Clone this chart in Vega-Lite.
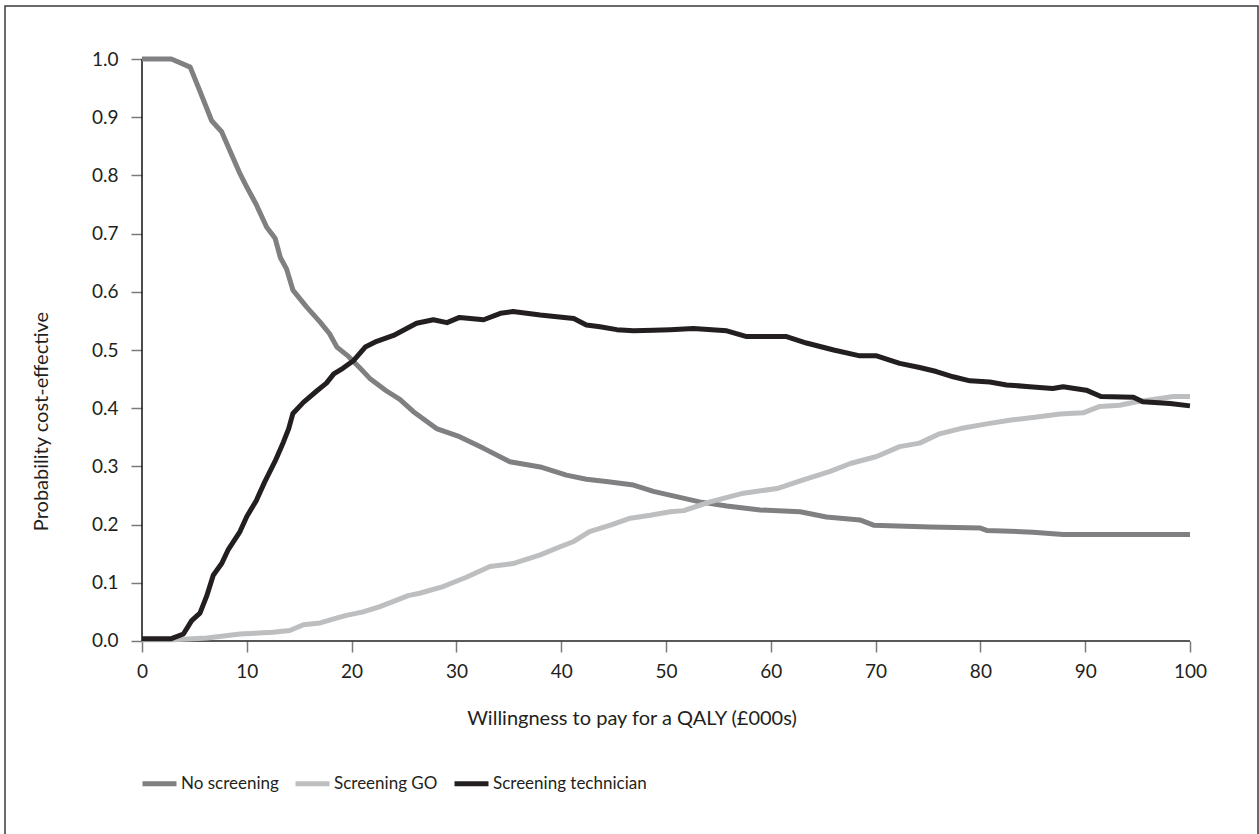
{
  "$schema": "https://vega.github.io/schema/vega-lite/v6.json",
  "width": 1253,
  "height": 830,
  "padding": {"left": 5, "top": 6, "right": 1, "bottom": 0},
  "autosize": {"type": "none"},
  "background": "white",
  "config": {
    "view": {"stroke": "#3a3a3a", "strokeWidth": 1.5},
    "font": "Lato",
    "axis": {
      "grid": false,
      "domain": false,
      "tickColor": "#7a7a7a",
      "tickWidth": 1.5,
      "tickSize": 11,
      "labelColor": "#231f20",
      "labelFont": "Lato",
      "labelFontSize": 19,
      "titleColor": "#231f20",
      "titleFont": "Lato",
      "titleFontSize": 20,
      "titleFontWeight": "normal"
    },
    "legend": {
      "labelFont": "Lato",
      "labelFontSize": 17,
      "labelColor": "#231f20",
      "labelLimit": 0
    }
  },
  "datasets": {
    "curves": [
      {"series": "No screening", "wtp": 0, "prob": 1.0},
      {"series": "No screening", "wtp": 2.8, "prob": 1.0},
      {"series": "No screening", "wtp": 4.6, "prob": 0.986},
      {"series": "No screening", "wtp": 5.5, "prob": 0.946},
      {"series": "No screening", "wtp": 6.65, "prob": 0.894},
      {"series": "No screening", "wtp": 7.6, "prob": 0.875},
      {"series": "No screening", "wtp": 8.4, "prob": 0.842},
      {"series": "No screening", "wtp": 9.35, "prob": 0.803},
      {"series": "No screening", "wtp": 10.0, "prob": 0.78},
      {"series": "No screening", "wtp": 10.9, "prob": 0.75},
      {"series": "No screening", "wtp": 11.9, "prob": 0.711},
      {"series": "No screening", "wtp": 12.7, "prob": 0.692},
      {"series": "No screening", "wtp": 13.2, "prob": 0.659},
      {"series": "No screening", "wtp": 13.8, "prob": 0.639},
      {"series": "No screening", "wtp": 14.4, "prob": 0.603},
      {"series": "No screening", "wtp": 15.7, "prob": 0.574},
      {"series": "No screening", "wtp": 17.0, "prob": 0.548},
      {"series": "No screening", "wtp": 17.9, "prob": 0.528},
      {"series": "No screening", "wtp": 18.6, "prob": 0.505},
      {"series": "No screening", "wtp": 19.7, "prob": 0.489},
      {"series": "No screening", "wtp": 20.8, "prob": 0.469},
      {"series": "No screening", "wtp": 21.8, "prob": 0.45},
      {"series": "No screening", "wtp": 23.3, "prob": 0.43},
      {"series": "No screening", "wtp": 24.6, "prob": 0.415},
      {"series": "No screening", "wtp": 25.9, "prob": 0.394},
      {"series": "No screening", "wtp": 28.1, "prob": 0.365},
      {"series": "No screening", "wtp": 30.3, "prob": 0.351},
      {"series": "No screening", "wtp": 32.6, "prob": 0.331},
      {"series": "No screening", "wtp": 35.1, "prob": 0.308},
      {"series": "No screening", "wtp": 38.0, "prob": 0.299},
      {"series": "No screening", "wtp": 40.5, "prob": 0.285},
      {"series": "No screening", "wtp": 42.4, "prob": 0.278},
      {"series": "No screening", "wtp": 44.3, "prob": 0.274},
      {"series": "No screening", "wtp": 46.9, "prob": 0.268},
      {"series": "No screening", "wtp": 48.8, "prob": 0.257},
      {"series": "No screening", "wtp": 51.0, "prob": 0.248},
      {"series": "No screening", "wtp": 53.2, "prob": 0.239},
      {"series": "No screening", "wtp": 55.8, "prob": 0.232},
      {"series": "No screening", "wtp": 59.0, "prob": 0.225},
      {"series": "No screening", "wtp": 62.8, "prob": 0.222},
      {"series": "No screening", "wtp": 65.3, "prob": 0.213},
      {"series": "No screening", "wtp": 68.5, "prob": 0.208},
      {"series": "No screening", "wtp": 69.8, "prob": 0.199},
      {"series": "No screening", "wtp": 75.2, "prob": 0.196},
      {"series": "No screening", "wtp": 80.0, "prob": 0.194},
      {"series": "No screening", "wtp": 80.6, "prob": 0.19},
      {"series": "No screening", "wtp": 85.0, "prob": 0.187},
      {"series": "No screening", "wtp": 87.9, "prob": 0.183},
      {"series": "No screening", "wtp": 100, "prob": 0.183},
      {"series": "Screening GO", "wtp": 0, "prob": 0.002},
      {"series": "Screening GO", "wtp": 3.0, "prob": 0.002},
      {"series": "Screening GO", "wtp": 6.2, "prob": 0.005},
      {"series": "Screening GO", "wtp": 9.35, "prob": 0.012},
      {"series": "Screening GO", "wtp": 12.5, "prob": 0.015},
      {"series": "Screening GO", "wtp": 14.1, "prob": 0.018},
      {"series": "Screening GO", "wtp": 15.4, "prob": 0.028},
      {"series": "Screening GO", "wtp": 17.0, "prob": 0.031},
      {"series": "Screening GO", "wtp": 18.3, "prob": 0.038},
      {"series": "Screening GO", "wtp": 19.5, "prob": 0.044},
      {"series": "Screening GO", "wtp": 21.1, "prob": 0.05},
      {"series": "Screening GO", "wtp": 22.7, "prob": 0.059},
      {"series": "Screening GO", "wtp": 24.0, "prob": 0.068},
      {"series": "Screening GO", "wtp": 25.4, "prob": 0.078},
      {"series": "Screening GO", "wtp": 26.5, "prob": 0.082},
      {"series": "Screening GO", "wtp": 28.8, "prob": 0.094},
      {"series": "Screening GO", "wtp": 31.0, "prob": 0.11},
      {"series": "Screening GO", "wtp": 33.2, "prob": 0.128},
      {"series": "Screening GO", "wtp": 35.4, "prob": 0.133},
      {"series": "Screening GO", "wtp": 38.0, "prob": 0.148},
      {"series": "Screening GO", "wtp": 39.9, "prob": 0.162},
      {"series": "Screening GO", "wtp": 41.2, "prob": 0.171},
      {"series": "Screening GO", "wtp": 42.7, "prob": 0.188},
      {"series": "Screening GO", "wtp": 44.7, "prob": 0.199},
      {"series": "Screening GO", "wtp": 46.6, "prob": 0.211},
      {"series": "Screening GO", "wtp": 48.5, "prob": 0.216},
      {"series": "Screening GO", "wtp": 50.4, "prob": 0.222},
      {"series": "Screening GO", "wtp": 51.7, "prob": 0.224},
      {"series": "Screening GO", "wtp": 54.2, "prob": 0.239},
      {"series": "Screening GO", "wtp": 57.4, "prob": 0.254},
      {"series": "Screening GO", "wtp": 60.6, "prob": 0.262},
      {"series": "Screening GO", "wtp": 63.1, "prob": 0.277},
      {"series": "Screening GO", "wtp": 65.6, "prob": 0.291},
      {"series": "Screening GO", "wtp": 67.6, "prob": 0.305},
      {"series": "Screening GO", "wtp": 70.1, "prob": 0.317},
      {"series": "Screening GO", "wtp": 72.3, "prob": 0.334},
      {"series": "Screening GO", "wtp": 74.2, "prob": 0.34},
      {"series": "Screening GO", "wtp": 76.1, "prob": 0.356},
      {"series": "Screening GO", "wtp": 78.1, "prob": 0.365},
      {"series": "Screening GO", "wtp": 80.6, "prob": 0.373},
      {"series": "Screening GO", "wtp": 83.1, "prob": 0.38},
      {"series": "Screening GO", "wtp": 85.4, "prob": 0.385},
      {"series": "Screening GO", "wtp": 87.6, "prob": 0.39},
      {"series": "Screening GO", "wtp": 89.8, "prob": 0.392},
      {"series": "Screening GO", "wtp": 91.4, "prob": 0.403},
      {"series": "Screening GO", "wtp": 93.3, "prob": 0.405},
      {"series": "Screening GO", "wtp": 94.9, "prob": 0.411},
      {"series": "Screening GO", "wtp": 96.5, "prob": 0.415},
      {"series": "Screening GO", "wtp": 98.4, "prob": 0.42},
      {"series": "Screening GO", "wtp": 100, "prob": 0.42},
      {"series": "Screening technician", "wtp": 0, "prob": 0.004},
      {"series": "Screening technician", "wtp": 2.8, "prob": 0.004},
      {"series": "Screening technician", "wtp": 3.95, "prob": 0.012},
      {"series": "Screening technician", "wtp": 4.74, "prob": 0.035},
      {"series": "Screening technician", "wtp": 5.53, "prob": 0.048},
      {"series": "Screening technician", "wtp": 6.17, "prob": 0.077},
      {"series": "Screening technician", "wtp": 6.8, "prob": 0.113},
      {"series": "Screening technician", "wtp": 7.6, "prob": 0.133},
      {"series": "Screening technician", "wtp": 8.2, "prob": 0.156},
      {"series": "Screening technician", "wtp": 9.35, "prob": 0.188},
      {"series": "Screening technician", "wtp": 10.0, "prob": 0.214},
      {"series": "Screening technician", "wtp": 10.9, "prob": 0.241},
      {"series": "Screening technician", "wtp": 11.7, "prob": 0.273},
      {"series": "Screening technician", "wtp": 12.7, "prob": 0.309},
      {"series": "Screening technician", "wtp": 13.5, "prob": 0.342},
      {"series": "Screening technician", "wtp": 14.0, "prob": 0.365},
      {"series": "Screening technician", "wtp": 14.4, "prob": 0.391},
      {"series": "Screening technician", "wtp": 15.4, "prob": 0.41},
      {"series": "Screening technician", "wtp": 16.7, "prob": 0.43},
      {"series": "Screening technician", "wtp": 17.6, "prob": 0.443},
      {"series": "Screening technician", "wtp": 18.3, "prob": 0.459},
      {"series": "Screening technician", "wtp": 19.2, "prob": 0.469},
      {"series": "Screening technician", "wtp": 20.2, "prob": 0.482},
      {"series": "Screening technician", "wtp": 21.3, "prob": 0.505},
      {"series": "Screening technician", "wtp": 22.4, "prob": 0.515},
      {"series": "Screening technician", "wtp": 24.0, "prob": 0.525},
      {"series": "Screening technician", "wtp": 26.2, "prob": 0.546},
      {"series": "Screening technician", "wtp": 27.8, "prob": 0.552},
      {"series": "Screening technician", "wtp": 29.1, "prob": 0.547},
      {"series": "Screening technician", "wtp": 30.3, "prob": 0.556},
      {"series": "Screening technician", "wtp": 32.6, "prob": 0.552},
      {"series": "Screening technician", "wtp": 34.2, "prob": 0.563},
      {"series": "Screening technician", "wtp": 35.4, "prob": 0.566},
      {"series": "Screening technician", "wtp": 36.7, "prob": 0.563},
      {"series": "Screening technician", "wtp": 38.0, "prob": 0.56},
      {"series": "Screening technician", "wtp": 39.6, "prob": 0.557},
      {"series": "Screening technician", "wtp": 41.2, "prob": 0.554},
      {"series": "Screening technician", "wtp": 42.4, "prob": 0.543},
      {"series": "Screening technician", "wtp": 43.7, "prob": 0.54},
      {"series": "Screening technician", "wtp": 45.3, "prob": 0.535},
      {"series": "Screening technician", "wtp": 46.9, "prob": 0.533},
      {"series": "Screening technician", "wtp": 48.8, "prob": 0.534},
      {"series": "Screening technician", "wtp": 50.4, "prob": 0.535},
      {"series": "Screening technician", "wtp": 52.6, "prob": 0.537},
      {"series": "Screening technician", "wtp": 55.8, "prob": 0.533},
      {"series": "Screening technician", "wtp": 57.7, "prob": 0.523},
      {"series": "Screening technician", "wtp": 61.5, "prob": 0.523},
      {"series": "Screening technician", "wtp": 63.4, "prob": 0.512},
      {"series": "Screening technician", "wtp": 66.0, "prob": 0.5},
      {"series": "Screening technician", "wtp": 68.5, "prob": 0.49},
      {"series": "Screening technician", "wtp": 70.1, "prob": 0.49},
      {"series": "Screening technician", "wtp": 72.3, "prob": 0.477},
      {"series": "Screening technician", "wtp": 74.2, "prob": 0.47},
      {"series": "Screening technician", "wtp": 75.8, "prob": 0.463},
      {"series": "Screening technician", "wtp": 77.4, "prob": 0.454},
      {"series": "Screening technician", "wtp": 79.0, "prob": 0.447},
      {"series": "Screening technician", "wtp": 80.9, "prob": 0.445},
      {"series": "Screening technician", "wtp": 82.5, "prob": 0.44},
      {"series": "Screening technician", "wtp": 84.7, "prob": 0.437},
      {"series": "Screening technician", "wtp": 86.9, "prob": 0.434},
      {"series": "Screening technician", "wtp": 87.9, "prob": 0.437},
      {"series": "Screening technician", "wtp": 90.1, "prob": 0.431},
      {"series": "Screening technician", "wtp": 91.5, "prob": 0.42},
      {"series": "Screening technician", "wtp": 94.6, "prob": 0.419},
      {"series": "Screening technician", "wtp": 95.5, "prob": 0.411},
      {"series": "Screening technician", "wtp": 98.1, "prob": 0.408},
      {"series": "Screening technician", "wtp": 100, "prob": 0.404}
    ],
    "axislines": [
      {"x": 0, "x2": 100, "y": 0, "y2": 0},
      {"x": 0, "x2": 0, "y": 0, "y2": 1}
    ]
  },
  "layer": [
    {
      "data": {"name": "axislines"},
      "mark": {"type": "rule", "color": "#231f20", "strokeWidth": 1.6},
      "encoding": {
        "x": {"field": "x", "type": "quantitative", "scale": {"domain": [-13.073, 106.49], "nice": false, "zero": false},
          "axis": {
            "values": [0, 10, 20, 30, 40, 50, 60, 70, 80, 90, 100],
            "offset": -195,
            "labelPadding": 10,
            "title": "Willingness to pay for a QALY (£000s)",
            "titlePadding": 27
          }},
        "x2": {"field": "x2"},
        "y": {"field": "y", "type": "quantitative", "scale": {"domain": [-0.3351, 1.0911], "nice": false, "zero": false},
          "axis": {
            "values": [0, 0.1, 0.2, 0.3, 0.4, 0.5, 0.6, 0.7, 0.8, 0.9, 1.0],
            "format": ".1f",
            "offset": -137,
            "labelPadding": 13,
            "title": "Probability cost-effective",
            "titlePadding": 40
          }},
        "y2": {"field": "y2"}
      }
    },
    {
      "data": {"name": "curves"},
      "mark": {"type": "line", "strokeWidth": 5, "strokeJoin": "round", "strokeCap": "butt"},
      "encoding": {
        "x": {"field": "wtp", "type": "quantitative"},
        "y": {"field": "prob", "type": "quantitative"},
        "color": {
          "field": "series",
          "type": "nominal",
          "scale": {"domain": ["No screening", "Screening GO", "Screening technician"], "range": ["#808083", "#bdbec0", "#231f20"]},
          "legend": {
            "orient": "none",
            "legendX": 135,
            "legendY": 758,
            "direction": "horizontal",
            "title": null,
            "symbolType": "stroke",
            "symbolSize": 1156,
            "symbolStrokeWidth": 5,
            "labelOffset": 2,
            "columnPadding": 6,
            "padding": 0
          }
        }
      }
    }
  ]
}
